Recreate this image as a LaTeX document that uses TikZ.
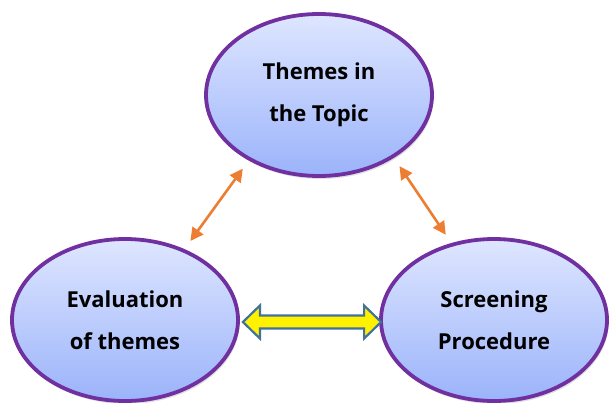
\documentclass[tikz,border=0pt]{standalone}
\usepackage{fontspec}
\setmainfont{Open Sans}
\usetikzlibrary{shapes.geometric,shadows,arrows.meta,calc}
\definecolor{rim}{HTML}{7030A0}
\definecolor{filltop}{HTML}{DEE6FF}
\definecolor{fillbot}{HTML}{9BB3FA}
\definecolor{orng}{HTML}{ED7D31}
\definecolor{yrim}{HTML}{41719C}
\begin{document}
\begin{tikzpicture}[x=1pt,y=1pt,
  topic/.style={ellipse, draw=rim, line width=3.8pt, minimum width=226pt, minimum height=162pt, inner sep=0pt,
    top color=filltop, bottom color=fillbot, align=center,
    font=\bfseries\fontsize{22}{42}\selectfont,
    drop shadow={shadow xshift=1.5pt, shadow yshift=-3pt, opacity=0.25}},
  link/.style={draw=orng, line width=2.6pt, {Triangle[length=13pt,width=13pt]}-{Triangle[length=13pt,width=13pt]}, shorten <=10pt, shorten >=10pt},
  yarrow/.style={fill=yellow, draw=yrim, line width=2.2pt, line join=miter}]
\useasboundingbox (0,0) rectangle (609,402);
\node[topic] (T) at (319,307) {Themes in\\the Topic};
\node[topic] (L) at (125,82) {Evaluation\\of themes};
\node[topic] (R) at (494,82) {Screening\\Procedure};
\draw[link] (L.50) -- (T.223);
\draw[link] (T.320) -- (R.119);
\coordinate (ya) at ($(L.east)+(3,-2)$);
\coordinate (yb) at ($(R.west)+(2,-2)$);
\draw[yarrow] (ya) -- ++(17,16.5) -- ++(0,-10) -- ($(yb)+(-17,6.5)$) -- ++(0,10) -- (yb) -- ++(-17,-16.5) -- ++(0,10) -- ($(ya)+(17,-6.5)$) -- ++(0,-10) -- cycle;
\end{tikzpicture}
\end{document}
